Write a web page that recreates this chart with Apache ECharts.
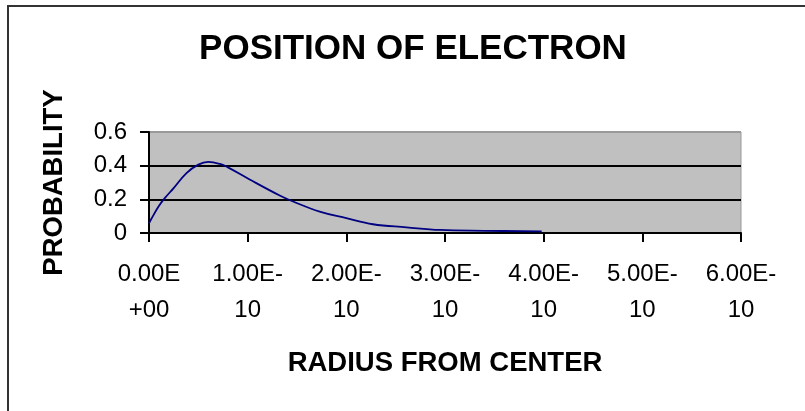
<!DOCTYPE html>
<html>
<head>
<meta charset="utf-8">
<script src="https://cdn.jsdelivr.net/npm/echarts@6/dist/echarts.min.js"></script>
<style>
  html, body { margin: 0; padding: 0; background: #fff; }
  #chart { width: 805px; height: 411px; }
</style>
</head>
<body>
<div id="chart"></div>
<script>
// radius from center (m) and probability
const radius = [0, 0.02e-10, 0.1e-10, 0.16e-10, 0.25e-10, 0.38e-10, 0.5e-10, 0.6e-10, 0.72e-10, 0.8e-10,
  1.02e-10, 1.33e-10, 1.46e-10, 1.73e-10, 2.0e-10, 2.27e-10, 2.61e-10, 2.95e-10, 3.4e-10, 3.98e-10]
const probability = [0.058, 0.08, 0.16, 0.207, 0.267, 0.356, 0.406, 0.422, 0.41, 0.39,
  0.318, 0.221, 0.187, 0.127, 0.088, 0.052, 0.034, 0.018, 0.013, 0.01]
const yTicks = [0, 0.2, 0.4, 0.6]

const font = "'Liberation Sans', Arial, sans-serif"

// Excel style 0.00E+00, wrapped after the sign like the original
const sciLabel = (v) => {
  if (Math.abs(v) < 1e-20) return '0.00E\n+00'
  const s = v.toExponential(2).toUpperCase()
  const [m, e] = s.split('E')
  const digits = e.slice(1).padStart(2, '0')
  return e[0] === '-' ? m + 'E-\n' + digits : m + 'E\n+' + digits
}

const chart = echarts.init(document.getElementById('chart'))

chart.setOption({
  animation: false,
  backgroundColor: '#fff',
  title: {
    text: 'POSITION OF ELECTRON',
    left: 408,
    top: 27,
    textAlign: 'center',
    textStyle: { fontFamily: font, fontSize: 35, fontWeight: 'bold', color: '#000' }
  },
  graphic: [
    {
      type: 'rect',
      shape: { x: 8, y: 6, width: 900, height: 500 },
      style: { fill: 'none', stroke: '#333', lineWidth: 2 },
      silent: true
    }
  ],
  grid: {
    left: 149,
    top: 132,
    right: 64,
    bottom: 178,
    show: true,
    backgroundColor: '#c0c0c0',
    borderColor: '#999',
    borderWidth: 1
  },
  xAxis: {
    type: 'value',
    min: 0,
    max: 6e-10,
    interval: 1e-10,
    name: 'RADIUS FROM CENTER',
    nameLocation: 'middle',
    nameGap: 116,
    nameTextStyle: { fontFamily: font, fontSize: 27.5, fontWeight: 'bold', color: '#000' },
    axisLine: { show: true, lineStyle: { color: '#000', width: 2 } },
    axisTick: { show: true, inside: false, length: 9, lineStyle: { color: '#000', width: 2 } },
    axisLabel: {
      fontFamily: font,
      fontSize: 24,
      color: '#000',
      margin: 23,
      lineHeight: 36,
      showMinLabel: true,
      showMaxLabel: true,
      formatter: sciLabel
    },
    splitLine: { show: false }
  },
  yAxis: {
    type: 'value',
    min: yTicks[0],
    max: yTicks[yTicks.length - 1],
    interval: 0.2,
    name: 'PROBABILITY',
    nameLocation: 'middle',
    nameGap: 81,
    nameRotate: 90,
    nameTextStyle: { fontFamily: font, fontSize: 27.5, fontWeight: 'bold', color: '#000' },
    axisLine: { show: true, lineStyle: { color: '#000', width: 2 } },
    axisTick: { show: true, inside: false, length: 9, lineStyle: { color: '#000', width: 2 } },
    axisLabel: {
      fontFamily: font,
      fontSize: 24,
      color: '#000',
      margin: 22,
      formatter: (v) => String(Math.round(v * 10) / 10)
    },
    splitLine: {
      show: true,
      lineStyle: { color: ['#000', '#000', '#000', '#999'], width: 2 }
    }
  },
  series: [
    {
      type: 'line',
      data: radius.map((r, i) => [r, probability[i]]),
      smooth: 0.4,
      showSymbol: false,
      lineStyle: { color: '#000080', width: 1.8 },
      itemStyle: { color: '#000080' }
    }
  ]
})
</script>
</body>
</html>
